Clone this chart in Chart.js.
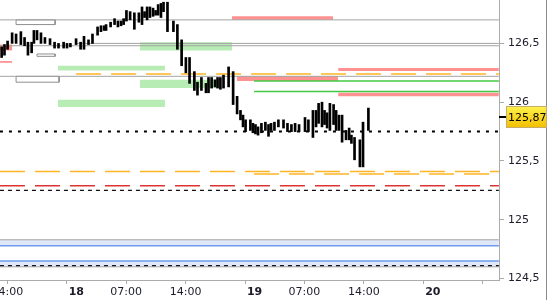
<!DOCTYPE html>
<html>
<head>
<meta charset="utf-8">
<script src="https://cdn.jsdelivr.net/npm/chart.js@4.4.0/dist/chart.umd.min.js"></script>
<style>
  html, body { margin: 0; padding: 0; background: #fff; }
  #wrap { width: 550px; height: 300px; }
</style>
</head>
<body>
<div id="wrap"><canvas id="myChart" width="550" height="300"></canvas></div>
<script>
// bars: x = bar slot (21 slots between two time ticks)
const barSlots = [
  -2.0, -1.0, 0.1, 1.7, 3.1, 4.8, 6.1, 7.3, 8.6, 9.4,
  10.5, 11.9, 13.3, 15.1, 16.7, 18.1, 19.9, 21.1, 22.3, 24.3,
  25.9, 27.1, 28.7, 30.1, 31.9, 33.1, 34.2, 34.9, 36.5, 37.9,
  39.1, 40.2, 41.1, 42.1, 43.4, 44.9, 46.5, 47.6, 48.5, 49.4,
  50.4, 51.5, 52.4, 53.3, 54.3, 55.2, 56.6, 58.7, 60.1, 61.6,
  63.1, 64.4, 66.1, 67.2, 68.6, 70.2, 71.1, 72.2, 73.4, 74.3,
  75.3, 76.4, 78.2, 79.8, 81.2, 82.4, 83.3, 84.2, 85.9, 86.8,
  87.7, 88.6, 89.8, 91.2, 92.3, 93.2, 94.4, 95.8, 97.6, 99.0,
  100.4, 101.7, 103.1, 105.2, 106.4, 108.0, 109.1, 110.0, 111.2, 112.1,
  113.0, 114.0, 115.3, 116.2, 117.2, 118.3, 119.7, 120.8, 121.6, 122.7,
  124.6, 125.7, 127.6
];
const barHighs = [
  126.47, 126.49, 126.52, 126.59, 126.58, 126.60, 126.55, 126.51, 126.51, 126.61,
  126.61, 126.59, 126.55, 126.54, 126.51, 126.50, 126.51, 126.50, 126.50, 126.54,
  126.51, 126.56, 126.53, 126.58, 126.64, 126.65, 126.65, 126.66, 126.68, 126.71,
  126.69, 126.69, 126.71, 126.78, 126.77, 126.76, 126.76, 126.81, 126.77, 126.81,
  126.81, 126.80, 126.78, 126.83, 126.84, 126.85, 126.85, 126.69, 126.66, 126.53,
  126.38, 126.38, 126.26, 126.17, 126.21, 126.16, 126.21, 126.21, 126.19, 126.21,
  126.21, 126.23, 126.30, 126.26, 126.05, 125.93, 125.89, 125.85, 125.85, 125.82,
  125.81, 125.79, 125.82, 125.83, 125.81, 125.82, 125.83, 125.85, 125.85, 125.82,
  125.81, 125.82, 125.81, 125.87, 125.85, 125.93, 125.93, 125.99, 126.00, 125.93,
  125.91, 125.99, 125.98, 125.93, 125.89, 125.89, 125.76, 125.78, 125.72, 125.70,
  125.68, 125.83, 125.95
];
const barLows = [
  126.38, 126.40, 126.45, 126.50, 126.50, 126.49, 126.48, 126.40, 126.42, 126.50,
  126.53, 126.50, 126.50, 126.49, 126.46, 126.46, 126.46, 126.46, 126.47, 126.49,
  126.45, 126.45, 126.49, 126.50, 126.57, 126.60, 126.61, 126.61, 126.64, 126.66,
  126.64, 126.65, 126.66, 126.69, 126.70, 126.62, 126.68, 126.66, 126.72, 126.70,
  126.72, 126.73, 126.74, 126.74, 126.72, 126.77, 126.60, 126.60, 126.45, 126.31,
  126.25, 126.16, 126.10, 126.06, 126.10, 126.08, 126.08, 126.12, 126.13, 126.12,
  126.11, 126.12, 126.13, 125.98, 125.90, 125.85, 125.79, 125.75, 125.76, 125.74,
  125.73, 125.72, 125.74, 125.76, 125.71, 125.76, 125.76, 125.79, 125.78, 125.75,
  125.75, 125.75, 125.75, 125.75, 125.75, 125.70, 125.79, 125.82, 125.79, 125.81,
  125.78, 125.76, 125.81, 125.76, 125.76, 125.66, 125.68, 125.68, 125.65, 125.51,
  125.45, 125.45, 125.76
];
const lastPrice = 125.87;

const xTickSlots = [0, 21, 42, 63, 84, 105, 126, 147, 168];
const xTickLabels = ["14:00", "18", "07:00", "14:00", "19", "07:00", "14:00", "20", ""];
const dayLabels = ["18", "19", "20"];
const yTickValues = [124.5, 125, 125.5, 126, 126.5];

// levels: [from slot, to slot, price]
const grayLevels = [[-2.6, 173.7, 126.70], [24.6, 173.7, 126.50], [-2.6, 173.7, 126.48], [-2.6, 173.7, 126.22], [-2.6, 173.7, 124.83], [-2.6, 173.7, 124.60]];
const blueLevels = [[-2.6, 173.7, 124.78], [-2.6, 173.7, 124.65]];
const greenLevels = [[87.2, 173.7, 126.18], [87.2, 173.7, 126.09]];
const orangeLevels = [[24.3, 173.7, 126.24], [-2.6, 173.7, 125.41], [87.2, 173.7, 125.39]];
const redLevels = [[-2.6, 173.7, 125.29]];
const blackDashLevels = [[-2.6, 173.7, 125.25], [-2.6, 173.7, 124.61]];
const dottedLevels = [[-2.6, 173.7, 125.75]];

// zones: [from slot, to slot, low, high]
const greenZones = [[46.9, 79.4, 126.44, 126.51], [17.9, 55.7, 126.27, 126.31], [46.9, 74.5, 126.12, 126.19], [17.9, 55.7, 125.96, 126.02]];
const pinkZones = [[-2.6, 1.7, 126.44, 126.49], [-2.6, 1.7, 126.335, 126.35], [79.4, 115.1, 126.70, 126.73], [81.2, 116.9, 126.18, 126.22], [116.9, 173.7, 126.265, 126.29], [116.9, 173.7, 126.05, 126.08]];
const grayBoxes = [[3.1, 16.9, 126.66, 126.70], [10.5, 16.9, 126.39, 126.41], [3.1, 18.3, 126.17, 126.22]];
const blueBands = [[-2.6, 173.7, 124.78, 124.83], [-2.6, 173.7, 124.60, 124.65]];

const fontFamily = '"DejaVu Sans", Verdana, sans-serif';

function level(lv, color, width, dash, order) {
  return {
    type: "line",
    data: [{ x: lv[0], y: lv[2] }, { x: lv[1], y: lv[2] }],
    borderColor: color,
    borderWidth: width,
    borderDash: dash,
    borderCapStyle: "butt",
    pointRadius: 0,
    fill: false,
    order,
  };
}

function zone(z, color, order) {
  return {
    type: "line",
    data: [{ x: z[0], y: z[3] }, { x: z[1], y: z[3] }],
    borderColor: "rgba(0,0,0,0)",
    borderWidth: 1,
    backgroundColor: color,
    pointRadius: 0,
    fill: { value: z[2] },
    order,
  };
}

function box(b, order) {
  return {
    type: "line",
    data: [
      { x: b[0], y: b[2] }, { x: b[0], y: b[3] }, { x: b[1], y: b[3] },
      { x: b[1], y: b[2] }, { x: b[0], y: b[2] },
    ],
    borderColor: "#8e8e8e",
    borderWidth: 1,
    backgroundColor: "#e6e6e6",
    pointRadius: 0,
    fill: { value: b[2] },
    order,
  };
}

const datasets = [
  {
    type: "bar",
    data: barSlots.map((x, i) => ({ x, y: [barLows[i], barHighs[i]] })),
    backgroundColor: "#000",
    borderWidth: 0,
    barThickness: 2,
    order: 0,
  },
];
grayLevels.forEach((l) => datasets.push(level(l, "#a3a3a3", 1, [], 2)));
blueLevels.forEach((l) => datasets.push(level(l, "#6d9bef", 1.5, [], 2)));
greenLevels.forEach((l) => datasets.push(level(l, "#43c843", 1.5, [], 2)));
orangeLevels.forEach((l) => datasets.push(level(l, "#ffb424", 1.5, [25, 10], 2)));
redLevels.forEach((l) => datasets.push(level(l, "#dd3333", 1.5, [25, 10], 2)));
blackDashLevels.forEach((l) => datasets.push(level(l, "#111", 1.2, [4, 4], 1)));
dottedLevels.forEach((l) => datasets.push(level(l, "#000", 2, [3, 6], 1)));
grayBoxes.forEach((b) => datasets.push(box(b, 3)));
greenZones.forEach((z) => datasets.push(zone(z, "#b7ecb5", 4)));
pinkZones.forEach((z) => datasets.push(zone(z, "#ff9191", 4)));
blueBands.forEach((z) => datasets.push(zone(z, "#dfe7f8", 5)));

const priceTag = {
  id: "priceTag",
  afterDraw(chart) {
    const ctx = chart.ctx;
    const area = chart.chartArea;
    const y = Math.round(chart.scales.y.getPixelForValue(lastPrice));
    ctx.save();
    ctx.strokeStyle = "#8a8a8a";
    ctx.lineWidth = 1;
    ctx.beginPath();
    ctx.moveTo(546.5, 0);
    ctx.lineTo(546.5, 300);
    ctx.stroke();
    ctx.fillStyle = "#000";
    ctx.fillRect(area.right, y - 1, 7, 2);
    const g = ctx.createLinearGradient(0, y - 11, 0, y + 11);
    g.addColorStop(0, "#fff24c");
    g.addColorStop(1, "#f3be00");
    ctx.fillStyle = g;
    ctx.fillRect(area.right + 7, y - 11, 41, 22);
    ctx.strokeStyle = "#c4ad6a";
    ctx.strokeRect(area.right + 7.5, y - 10.5, 40, 21);
    ctx.fillStyle = "#000";
    ctx.font = "11px " + fontFamily;
    ctx.textBaseline = "middle";
    ctx.fillText(String(lastPrice).replace(".", ","), area.right + 9, y + 1);
    ctx.restore();
  },
};

const noPadding = (scale) => {
  scale.paddingLeft = 0;
  scale.paddingRight = 0;
  scale.paddingTop = 0;
  scale.paddingBottom = 0;
};

const myChart = document.getElementById("myChart");
new Chart(myChart, {
  type: "line",
  data: { datasets },
  options: {
    responsive: false,
    animation: false,
    devicePixelRatio: 1,
    layout: { padding: 0, autoPadding: false },
    plugins: { legend: { display: false }, tooltip: { enabled: false } },
    scales: {
      x: {
        type: "linear",
        min: -2.58,
        max: 173.75,
        offset: false,
        afterBuildTicks: (scale) => {
          scale.ticks = xTickSlots.map((v) => ({ value: v }));
        },
        afterFit: (scale) => {
          scale.height = 20;
          noPadding(scale);
        },
        grid: { offset: false, drawOnChartArea: false, drawTicks: true, tickLength: 4, color: "#ababab" },
        border: { display: true, color: "#ababab" },
        ticks: {
          autoSkip: false,
          maxRotation: 0,
          minRotation: 0,
          padding: 2,
          color: "#1c1c2a",
          font: (c) => ({
            family: fontFamily,
            size: 11,
            weight: dayLabels.includes(xTickLabels[c.index]) ? "bold" : "normal",
          }),
          callback: (v, i) => {
            const t = xTickLabels[i];
            return dayLabels.includes(t) ? "     " + t : t;
          },
        },
      },
      y: {
        type: "linear",
        position: "right",
        min: 124.488,
        max: 126.869,
        afterBuildTicks: (scale) => {
          scale.ticks = yTickValues.map((v) => ({ value: v }));
        },
        afterFit: (scale) => {
          scale.width = 51;
          noPadding(scale);
        },
        grid: { drawOnChartArea: false, drawTicks: true, tickLength: 5, color: "#ababab" },
        border: { display: true, color: "#ababab" },
        ticks: {
          padding: 4,
          color: "#1c1c2a",
          font: { family: fontFamily, size: 11 },
          callback: (v) => String(v).replace(".", ","),
        },
      },
    },
  },
  plugins: [priceTag],
});
</script>
</body>
</html>
